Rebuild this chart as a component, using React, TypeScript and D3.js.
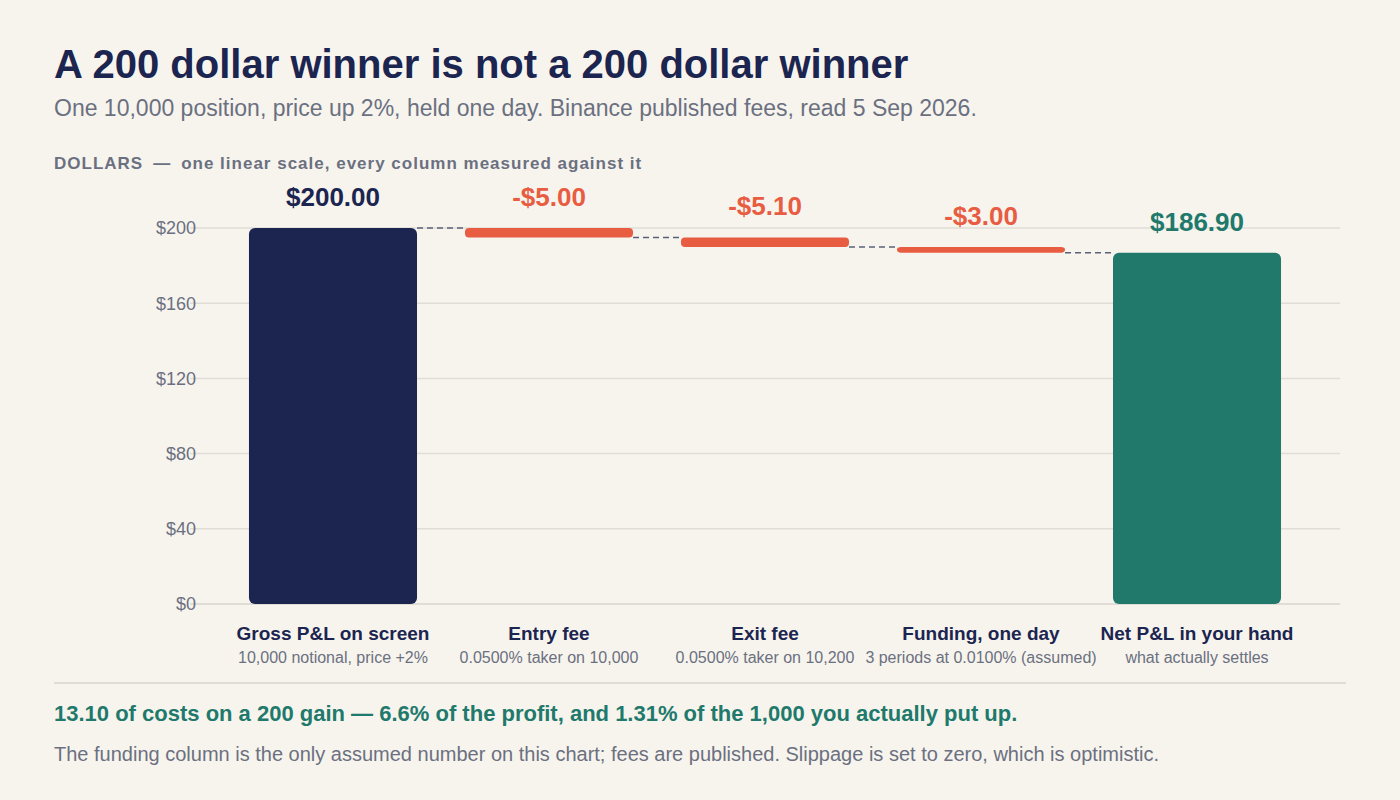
import React from "react";
import * as d3 from "d3";

const categories = [
  "Gross P&L on screen",
  "Entry fee",
  "Exit fee",
  "Funding, one day",
  "Net P&L in your hand",
];
const subLabels = [
  "10,000 notional, price +2%",
  "0.0500% taker on 10,000",
  "0.0500% taker on 10,200",
  "3 periods at 0.0100% (assumed)",
  "what actually settles",
];
const changes = [200, -5, -5.1, -3];
const yTicks = [0, 40, 80, 120, 160, 200];

const W = 1400;
const H = 800;
const BG = "#f7f4ee";
const NAVY = "#1b2550";
const ORANGE = "#e85c41";
const TEAL = "#20796b";
const GREY = "#6b7080";
const GRID = "#e0ddd6";
const FONT = "'Liberation Sans', Arial, sans-serif";

// running totals -> step rows
const steps = (() => {
  let run = 0;
  const out: { name: string; sub: string; y0: number; y1: number; value: number; kind: string }[] = [];
  changes.forEach((c, i) => {
    const y0 = run;
    run += c;
    out.push({ name: categories[i], sub: subLabels[i], y0, y1: run, value: c, kind: i === 0 ? "gross" : "fee" });
  });
  out.push({ name: categories[4], sub: subLabels[4], y0: 0, y1: run, value: run, kind: "net" });
  return out;
})();

const fmt = (v: number) => (v < 0 ? "-$" : "$") + Math.abs(v).toFixed(2);

export default function App() {
  const x = d3
    .scaleBand<string>()
    .domain(categories)
    .range([190, 1340])
    .paddingInner(0.222)
    .paddingOuter(0.273);
  const y = d3.scaleLinear().domain([0, 200]).range([604, 228]);
  const bw = x.bandwidth();

  const colorOf = (k: string) => (k === "gross" ? NAVY : k === "net" ? TEAL : ORANGE);

  return (
    <div style={{ position: "fixed", left: 0, top: 0, width: W, height: H, background: BG }}>
      <svg width={W} height={H} style={{ display: "block", fontFamily: FONT }}>
        <rect width={W} height={H} fill={BG} />
        <text x={54} y={78} fontSize={40} fontWeight="bold" fill={NAVY}>
          A 200 dollar winner is not a 200 dollar winner
        </text>
        <text x={54} y={116} fontSize={23} fill={GREY}>
          One 10,000 position, price up 2%, held one day. Binance published fees, read 5 Sep 2026.
        </text>
        <text x={54} y={169} fontSize={17} fontWeight="bold" fill={GREY} letterSpacing={1}>
          <tspan>DOLLARS</tspan>
          <tspan dx={10}>—</tspan>
          <tspan dx={10}>one linear scale, every column measured against it</tspan>
        </text>

        {/* grid + y ticks */}
        {yTicks.map((t) => (
          <g key={t}>
            <line x1={190} x2={1340} y1={y(t)} y2={y(t)} stroke={GRID} strokeWidth={t === 0 ? 2 : 1.5} />
            <text x={196} y={y(t)} dy="0.35em" textAnchor="end" fontSize={18} fill={GREY}>
              {"$" + t}
            </text>
          </g>
        ))}

        {/* connectors */}
        {steps.slice(0, -1).map((s, i) => {
          const x1 = (x(s.name) as number) + bw;
          const x2 = x(steps[i + 1].name) as number;
          return (
            <line
              key={"c" + i}
              x1={x1}
              x2={x2}
              y1={y(s.y1)}
              y2={y(s.y1)}
              stroke="#5a6175"
              strokeWidth={1.5}
              strokeDasharray="6,4"
            />
          );
        })}

        {/* bars */}
        {steps.map((s) => {
          const top = y(Math.max(s.y0, s.y1));
          const bot = y(Math.min(s.y0, s.y1));
          return (
            <rect
              key={s.name}
              x={x(s.name)}
              y={top}
              width={bw}
              height={Math.max(bot - top, 2)}
              rx={s.kind === "fee" ? 4 : 6}
              fill={colorOf(s.kind)}
            />
          );
        })}

        {/* value labels */}
        {steps.map((s) => (
          <text
            key={"v" + s.name}
            x={(x(s.name) as number) + bw / 2}
            y={y(Math.max(s.y0, s.y1)) - 22}
            textAnchor="middle"
            fontSize={26}
            fontWeight="bold"
            fill={colorOf(s.kind)}
          >
            {fmt(s.value)}
          </text>
        ))}

        {/* category labels */}
        {steps.map((s) => (
          <g key={"l" + s.name}>
            <text x={(x(s.name) as number) + bw / 2} y={640} textAnchor="middle" fontSize={19} fontWeight="bold" fill={NAVY}>
              {s.name}
            </text>
            <text x={(x(s.name) as number) + bw / 2} y={663} textAnchor="middle" fontSize={16} fill={GREY}>
              {s.sub}
            </text>
          </g>
        ))}

        <line x1={54} x2={1346} y1={683} y2={683} stroke={GRID} strokeWidth={2} />
        <text x={54} y={721} fontSize={22} fontWeight="bold" fill={TEAL}>
          13.10 of costs on a 200 gain — 6.6% of the profit, and 1.31% of the 1,000 you actually put up.
        </text>
        <text x={54} y={761} fontSize={20} fill={GREY}>
          The funding column is the only assumed number on this chart; fees are published. Slippage is set to zero, which is optimistic.
        </text>
      </svg>
    </div>
  );
}
